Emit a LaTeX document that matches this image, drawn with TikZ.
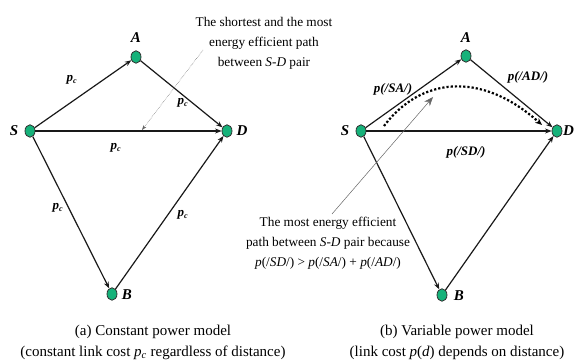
\documentclass[tikz,border=0pt]{standalone}
\usepackage{fontspec}
\setmainfont{Liberation Serif}
\usetikzlibrary{shapes.geometric,arrows.meta}
\definecolor{nodegreen}{RGB}{22,178,122}
\begin{document}
\begin{tikzpicture}[x=1pt,y=-1pt,
  vert/.style={ellipse,draw=black!80,line width=0.8pt,fill=nodegreen,minimum width=10pt,minimum height=12.5pt,inner sep=0pt},
  vlabel/.style={font=\fontsize{15}{17}\selectfont\bfseries\itshape,inner sep=0pt},
  elabel/.style={font=\fontsize{13}{15}\selectfont\bfseries\itshape,inner sep=0pt},
  link/.style={draw=black!90,line width=1.2pt,-{Stealth[length=6.5pt,width=5pt]}},
  leader/.style={draw=black!60,line width=0.5pt,densely dotted},
  note/.style={font=\fontsize{13.3}{20}\selectfont,align=center,inner sep=0pt},
  captext/.style={font=\fontsize{15}{21}\selectfont,align=center,inner sep=0pt}
]
\useasboundingbox (0,0) rectangle (574,363);
% ---------- left panel ----------
\node[vert] (S1) at (30,131) {};
\node[vert] (A1) at (136,57) {};
\node[vert] (D1) at (227,131) {};
\node[vert] (B1) at (112,294) {};
\node[vlabel] (lS1) at (14,131) {S};
\node[vlabel] (lA1) at (136,38) {A};
\node[vlabel] (lD1) at (242,131) {D};
\node[vlabel] (lB1) at (127,295) {B};
\draw[link] (S1) -- (A1);
\draw[link] (A1) -- (D1);
\draw[link] (S1) -- (D1);
\draw[link] (S1) -- (B1);
\draw[link] (B1) -- (D1);
\node[elabel] (pSA1) at (72,80) {p\textsubscript{\fontsize{8}{9}\selectfont c}};
\node[elabel] (pAD1) at (183,103) {p\textsubscript{\fontsize{8}{9}\selectfont c}};
\node[elabel] (pSD1) at (116,148) {p\textsubscript{\fontsize{8}{9}\selectfont c}};
\node[elabel] (pSB1) at (58,208) {p\textsubscript{\fontsize{8}{9}\selectfont c}};
\node[elabel] (pBD1) at (183,215) {p\textsubscript{\fontsize{8}{9}\selectfont c}};
\node[note] (top) at (264,43) {The shortest and the most\\energy efficient path\\between \textit{S-D} pair};
\coordinate (lstart) at (203,50);
\coordinate (ltip) at (142,130);
\draw[leader,-{Stealth[length=5pt,width=3.5pt]}] (lstart) -- (ltip);
\node[captext] (capA) at (153,342) {(a) Constant power model\\(constant link cost \textit{p\textsubscript{c}} regardless of distance)};
% ---------- right panel ----------
\node[vert] (S2) at (361,131) {};
\node[vert] (A2) at (466,56) {};
\node[vert] (D2) at (557,131) {};
\node[vert] (B2) at (442,295) {};
\node[vlabel] (lS2) at (345,131) {S};
\node[vlabel] (lA2) at (466,38) {A};
\node[vlabel,anchor=west] (lD2) at (563,131) {D};
\node[vlabel] (lB2) at (459,296) {B};
\draw[link] (S2) -- (A2);
\draw[link] (A2) -- (D2);
\draw[link] (S2) -- (D2);
\draw[link] (S2) -- (B2);
\draw[link] (B2) -- (D2);
\node[elabel] (pSA2) at (393,89) {p(/SA/)};
\node[elabel] (pAD2) at (528,77) {p(/AD/)};
\node[elabel] (pSD2) at (466,152) {p(/SD/)};
\coordinate (cstart) at (384,126);
\coordinate (cend) at (542,125);
\draw[line width=2.2pt,dotted,-{Stealth[length=7pt,width=6pt,line width=0pt]}] (cstart) .. controls (420,78) and (480,70) .. (cend);
\node[note] (bot) at (328,243) {The most energy efficient\\path between \textit{S-D} pair because\\\textit{p}(/\textit{SD}/) {\textgreater} \textit{p}(/\textit{SA}/) + \textit{p}(/\textit{AD}/)};
\coordinate (rstart) at (332,214);
\coordinate (rtip) at (433,97);
\draw[draw=black!60,line width=0.5pt,-{Stealth[length=9pt,width=7pt]}] (rstart) -- (rtip);
\node[captext] (capB) at (457,342) {(b) Variable power model\\(link cost \textit{p}(\textit{d}) depends on distance)};
\end{tikzpicture}
\end{document}
